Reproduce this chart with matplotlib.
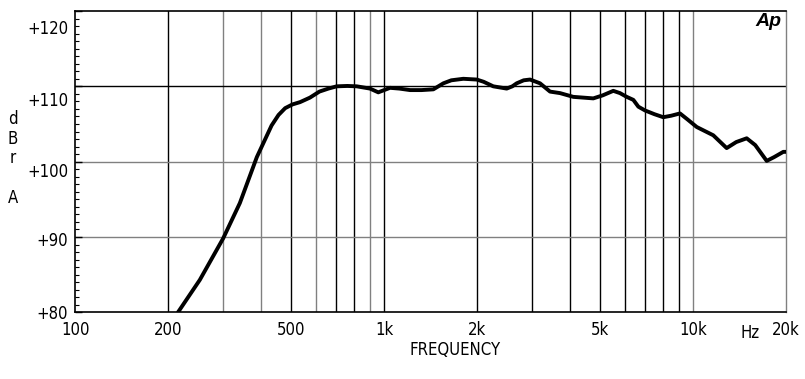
import matplotlib
matplotlib.use("Agg")
import matplotlib.pyplot as plt
from matplotlib import font_manager
import matplotlib.transforms as mtransforms

# ---- data ----
freq_hz = [215, 253, 301, 341, 387, 432, 455, 478, 505, 534, 575, 617, 660,
           702, 760, 815, 900, 957, 1000, 1045, 1120, 1213, 1320, 1443, 1555,
           1650, 1804, 1994, 2100, 2256, 2493, 2600, 2686, 2830, 2967, 3196,
           3444, 3710, 4097, 4755, 5100, 5519, 5800, 6100, 6409, 6652, 6990,
           7500, 8012, 8500, 9074, 9600, 10280, 11630, 12850, 13800, 14920,
           15900, 17320, 18300, 19600, 20000]
level_dbr = [80.0, 84.3, 89.8, 94.5, 100.6, 104.8, 106.2, 107.1, 107.6, 107.9,
             108.5, 109.3, 109.7, 110.0, 110.05, 110.0, 109.7, 109.2, 109.5,
             109.8, 109.7, 109.5, 109.5, 109.6, 110.4, 110.8, 111.0, 110.9,
             110.6, 110.0, 109.7, 110.0, 110.4, 110.8, 110.9, 110.4, 109.3,
             109.1, 108.6, 108.4, 108.8, 109.4, 109.1, 108.6, 108.2, 107.3,
             106.8, 106.3, 105.9, 106.1, 106.4, 105.6, 104.6, 103.5, 101.8,
             102.6, 103.1, 102.2, 100.1, 100.6, 101.3, 101.3]

x_tick_vals = [100, 200, 500, 1000, 2000, 5000, 10000, 20000]
x_tick_labels = ["100", "200", "500", "1k", "2k", "5k", "10k", "20k"]
y_tick_vals = [80, 90, 100, 110, 120]
y_tick_labels = ["+80", "+90", "+100", "+110", "+120"]
grid_black_x = [200, 500, 700, 800, 1000, 2000, 3000, 4000, 5000, 6000, 7000, 8000, 9000]
grid_gray_x = [300, 400, 600, 900, 10000]

# ---- fonts ----
plt.rcParams["font.family"] = ["DejaVu Sans"]
plt.rcParams["font.stretch"] = "condensed"
FS = dict(fontstretch="condensed")

fig = plt.figure(figsize=(8.05, 3.79), dpi=100)
ax = fig.add_axes([75.3 / 805, 1 - 312.3 / 379, (786 - 75.3) / 805, (312.3 - 11) / 379])

ax.set_xscale("log")
ax.set_xlim(100, 20000)
ax.set_ylim(80, 120)

for xv in grid_black_x:
    ax.axvline(xv, color="black", lw=1.0, zorder=1)
for xv in grid_gray_x:
    ax.axvline(xv, color="#808080", lw=1.0, zorder=1)
ax.axhline(110, color="black", lw=1.0, zorder=1)
ax.axhline(100, color="#808080", lw=1.0, zorder=1)
ax.axhline(90, color="#808080", lw=1.0, zorder=1)

ax.plot(freq_hz, level_dbr, color="black", lw=2.8, solid_joinstyle="round",
        solid_capstyle="round", zorder=3, clip_on=True)

for s in ["left", "bottom", "top"]:
    ax.spines[s].set_color("black")
    ax.spines[s].set_linewidth(1.2)
ax.spines["right"].set_color("#808080")
ax.spines["right"].set_linewidth(1.0)

ax.set_xticks(x_tick_vals)
ax.set_xticklabels(x_tick_labels, **FS)
ax.xaxis.set_minor_locator(matplotlib.ticker.NullLocator())
ax.tick_params(axis="x", length=0, pad=6, labelsize=12)

ax.set_yticks(y_tick_vals)
ax.set_yticklabels(y_tick_labels, **FS)
ax.set_yticks(range(80, 121, 1), minor=True)
ax.tick_params(axis="y", which="major", direction="in", length=5, width=1.0, pad=5, labelsize=12)
ax.tick_params(axis="y", which="minor", direction="in", length=3, width=0.8)

# label offsets (downwards, pixels) as they appear in the scanned reference
label_offsets = {80: 0, 90: -2, 100: -8, 110: -13, 120: -16}
for lab, val in zip(ax.get_yticklabels(), y_tick_vals):
    off = mtransforms.ScaledTranslation(0, label_offsets[val] / 100.0, fig.dpi_scale_trans)
    lab.set_transform(lab.get_transform() + off)

# axis titles
fig.text(455 / 805, 1 - 350 / 379, "FREQUENCY", ha="center", va="center", fontsize=12, **FS)
fig.text(750 / 805, 1 - 333 / 379, "Hz", ha="center", va="center", fontsize=12, **FS)
for ch, yy in zip(["d", "B", "r", "A"], [119, 139, 158, 198]):
    fig.text(13 / 805, 1 - yy / 379, ch, ha="center", va="center", fontsize=12, **FS)

# Ap logo
fig.text(768 / 805, 1 - 22 / 379, "Ap", ha="center", va="center", fontsize=14,
         fontweight="bold", fontstyle="italic", family=["Liberation Sans", "DejaVu Sans"])

fig.savefig("out.png", dpi=100)
